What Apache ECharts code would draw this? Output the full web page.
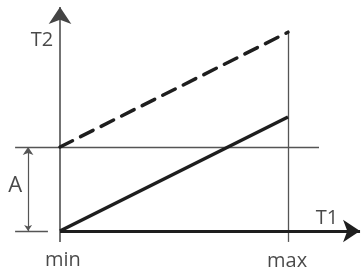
<!DOCTYPE html>
<html>
<head>
<meta charset="utf-8">
<script src="https://cdn.jsdelivr.net/npm/echarts@6/dist/echarts.min.js"></script>
<style>
  html, body { margin: 0; padding: 0; background: #fff; }
  #chart { width: 362px; height: 268px; }
</style>
</head>
<body>
<div id="chart"></div>
<script>
// T1 axis: min -> 0, max -> 10 ; T2 axis: offset A = 3
var tickNames = ['min', 'max'];
var tickValues = [0, 10];
var offsetA = 3;
var solidLine = [[0, 0], [10, 4.07]];
var dashedLine = [[0, 3], [10, 7.1]];
var axisNames = ['T1', 'T2'];

var myChart = echarts.init(document.getElementById('chart'));

var dark = '#1e1e1e';
var gray = '#555';

// 结构线（坐标轴、辅助线）
function seg(p1, p2, width, color, symbols, size) {
    return {
        type: 'lines',
        coordinateSystem: 'cartesian2d',
        silent: true,
        symbol: symbols || ['none', 'none'],
        symbolSize: size || 10,
        lineStyle: { color: color, width: width, opacity: 1 },
        data: [{ coords: [p1, p2] }]
    };
}

var labelData = [
    { name: axisNames[1], value: [-0.79, 6.82] },
    { name: axisNames[0], value: [11.71, 0.46] },
    { name: 'A', value: [-1.97, 1.6], label: { fontSize: 22 } },
    { name: tickNames[0], value: [tickValues[0] + 0.13, -1.06] },
    { name: tickNames[1], value: [tickValues[1] - 0.04, -1.08] }
];

var option = {
    animation: false,
    grid: { left: 0, right: 0, top: 0, bottom: 0 },
    xAxis: { type: 'value', min: -2.632, max: 13.246, show: false },
    yAxis: { type: 'value', min: -1.321, max: 8.25, show: false },
    series: [
        // A 上下两条细线
        seg([-1.97, offsetA], [11.36, offsetA], 1.3, gray),
        seg([-1.97, 0], [-0.53, 0], 1.3, gray),
        // max 竖线
        seg([tickValues[1], 7.1], [tickValues[1], -0.39], 1.3, gray),
        // T2 轴
        seg([0, -0.39], [0, 8.0], 1.5, '#444', ['none', 'arrow'], [17, 17]),
        // T1 轴
        seg([0, 0], [13.16, 0], 3, dark, ['none', 'arrow'], [18, 17]),
        // A 尺寸箭头
        seg([-1.4, 0], [-1.4, offsetA], 1.2, gray, ['arrow', 'arrow'], [6, 8]),
        {
            type: 'line',
            data: solidLine,
            symbol: 'none',
            silent: true,
            lineStyle: { color: dark, width: 3.5 }
        },
        {
            type: 'line',
            data: dashedLine,
            symbol: 'none',
            silent: true,
            lineStyle: { color: dark, width: 3.5, type: [14, 9], cap: 'round' }
        },
        {
            type: 'scatter',
            symbolSize: 0,
            silent: true,
            data: labelData,
            label: {
                show: true,
                position: 'inside',
                formatter: '{b}',
                fontFamily: 'Open Sans',
                fontSize: 20,
                color: '#1a1a1a'
            }
        }
    ]
};

myChart.setOption(option);
</script>
</body>
</html>
